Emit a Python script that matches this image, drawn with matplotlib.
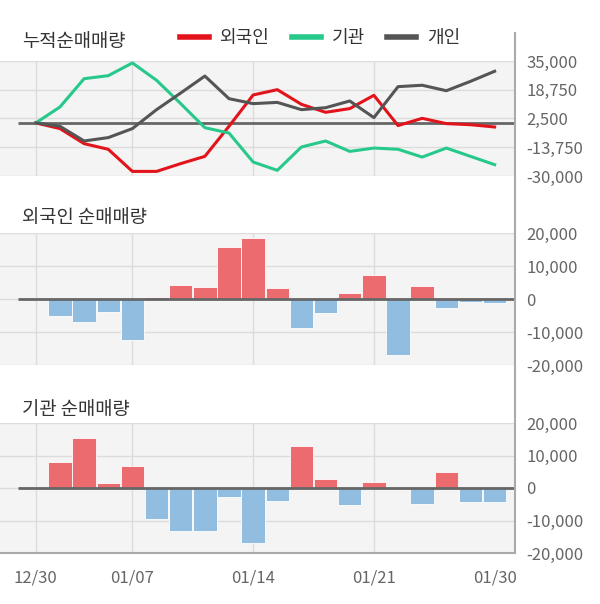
import matplotlib
matplotlib.use("Agg")
import matplotlib.pyplot as plt
from matplotlib.lines import Line2D
import numpy as np

plt.rcParams['font.family'] = ['Noto Sans CJK KR', 'DejaVu Sans']

# trading days (index 0..19), labelled ticks
dates = ["12/30", "01/02", "01/03", "01/06", "01/07", "01/08", "01/09", "01/10",
         "01/13", "01/14", "01/15", "01/16", "01/17", "01/20", "01/21", "01/22",
         "01/23", "01/28", "01/29", "01/30"]
tick_idx = [0, 4, 9, 14, 19]

# cumulative net buying
cum_foreign = [0, -3200, -11700, -14900, -27400, -27400, -23000, -18900, -1900, 15800,
               18800, 10500, 6000, 8100, 15600, -1500, 2600, -400, -1000, -2300]
cum_inst = [0, 9000, 25000, 26700, 33900, 24100, 10900, -2700, -5700, -22100,
            -26800, -13600, -10200, -16100, -14200, -14900, -19300, -14200, -18900, -23600]
cum_indiv = [0, -1900, -10200, -8300, -3200, 7500, 16900, 26500, 13700, 10900,
             11600, 7500, 8600, 12400, 3000, 20500, 21300, 18200, 23500, 29200]

# daily net buying
day_foreign = [0, -5250, -6870, -3840, -12320, 600, 4340, 3740, 15860, 18580,
               3430, -8890, -4140, 1920, 7270, -17070, 4040, -2630, -1010, -1110]
day_inst = [0, 7980, 15450, 1620, 6770, -9600, -13130, -13130, -2830, -17070,
            -4040, 12830, 2830, -5350, 1920, 0, -4950, 4950, -4340, -4340]

RED_LINE = "#e3131b"
GREEN_LINE = "#27c98b"
GREY_LINE = "#555555"
BAR_UP = "#ec6b6e"
BAR_DN = "#90bde0"
BG = "#f4f4f4"
GRID = "#dcdcdc"
TXT = "#666666"

W, H = 600, 604
fig = plt.figure(figsize=(W / 100, H / 100), dpi=100)

x0_px, step_px = 35.8, 24.15
ax_left, ax_right = 0, 515
xlim = ((ax_left - x0_px) / step_px, (ax_right - x0_px) / step_px)
zero_start = (18 - x0_px) / step_px


def make_ax(top, bottom):
    ax = fig.add_axes([ax_left / W, 1 - bottom / H, (ax_right - ax_left) / W, (bottom - top) / H])
    ax.set_facecolor(BG)
    for s in ax.spines.values():
        s.set_visible(False)
    ax.set_xlim(*xlim)
    ax.yaxis.tick_right()
    ax.tick_params(axis="y", length=0, pad=8, labelsize=12, labelcolor=TXT)
    ax.tick_params(axis="x", length=0)
    ax.set_xticks(tick_idx)
    ax.set_xticklabels([])
    ax.grid(True, color=GRID, linewidth=1)
    ax.get_xgridlines()[-1].set_visible(False)  # no grid line at 01/30
    ax.set_axisbelow(True)
    return ax


def fmt(v):
    return f"{int(v):,}"


x = np.arange(len(dates))

# panel 1: cumulative
ax1 = make_ax(61, 176)
ax1.set_ylim(-30000, 35000)
yt = [35000, 18750, 2500, -13750, -30000]
ax1.set_yticks(yt)
ax1.set_yticklabels([fmt(v) for v in yt])
ax1.hlines(0, zero_start, xlim[1], color="#666666", linewidth=2, zorder=2)
ax1.plot(x, cum_foreign, color=RED_LINE, linewidth=2.2, zorder=3)
ax1.plot(x, cum_inst, color=GREEN_LINE, linewidth=2.2, zorder=3)
ax1.plot(x, cum_indiv, color=GREY_LINE, linewidth=2.2, zorder=3)
fig.text(22 / W, 1 - 41 / H, "누적순매매량", fontsize=13.5, color="#333333", va="center")

handles = [Line2D([], [], color=c, linewidth=4) for c in (RED_LINE, GREEN_LINE, GREY_LINE)]
fig.legend(handles, ["외국인", "기관", "개인"], loc="center", bbox_to_anchor=(320 / W, 1 - 38 / H),
           ncol=3, frameon=False, fontsize=13, handlelength=1.6, columnspacing=1.25,
           handletextpad=0.6, labelcolor="#333333")


def bar_panel(top, bottom, vals, title, title_y):
    ax = make_ax(top, bottom)
    ax.set_ylim(-20000, 20000)
    yt = [20000, 10000, 0, -10000, -20000]
    ax.set_yticks(yt)
    ax.set_yticklabels([fmt(v) for v in yt])
    colors = [BAR_UP if v >= 0 else BAR_DN for v in vals]
    ax.bar(x, vals, width=0.97, color=colors, edgecolor="white", linewidth=0.6, zorder=2)
    ax.hlines(0, zero_start, xlim[1], color="#666666", linewidth=2, zorder=3)
    fig.text(22 / W, 1 - title_y / H, title, fontsize=13.5, color="#333333", va="center")
    return ax


ax2 = bar_panel(233, 365, day_foreign, "외국인 순매매량", 218)
ax3 = bar_panel(423, 553, day_inst, "기관 순매매량", 409)
ax3.spines["bottom"].set_visible(True)
ax3.spines["bottom"].set_color("#aaaaaa")
ax3.spines["bottom"].set_linewidth(1.5)
ax3.set_xticklabels([dates[i] for i in tick_idx])
ax3.tick_params(axis="x", labelsize=12, labelcolor=TXT, pad=12)

# right-hand axis line across all panels
fig.add_artist(Line2D([515 / W, 515 / W], [1 - 33 / H, 1 - 553 / H], color="#aaaaaa", linewidth=1.5))

fig.savefig("out.png", dpi=100)
